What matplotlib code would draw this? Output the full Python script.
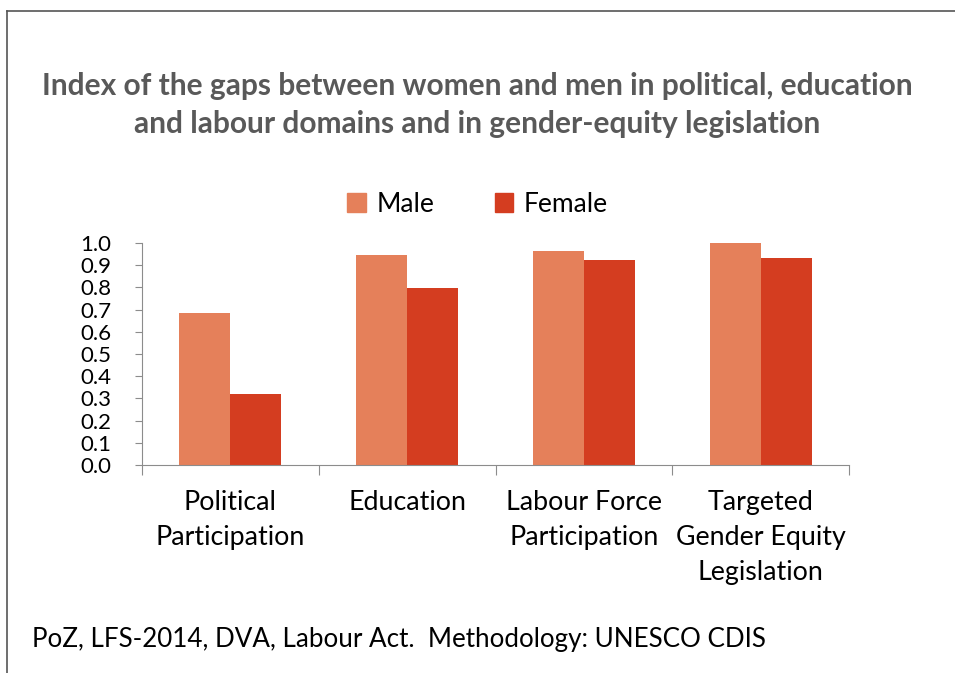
import matplotlib.pyplot as plt
import numpy as np
from matplotlib.patches import Patch

categories = ["Political\nParticipation", "Education", "Labour Force\nParticipation",
              "Targeted\nGender Equity\nLegislation"]
male = [0.684, 0.948, 0.963, 0.999]
female = [0.320, 0.798, 0.925, 0.934]
yticks = [0.0, 0.1, 0.2, 0.3, 0.4, 0.5, 0.6, 0.7, 0.8, 0.9, 1.0]

male_color = "#E5805A"
female_color = "#D43D20"
axis_gray = "#8C8C8C"
plt.rcParams['font.family'] = ['Lato', 'DejaVu Sans']

fig = plt.figure(figsize=(9.55, 6.73), dpi=100)
ax = fig.add_axes([142/955, 1-465/673, (849-142)/955, (465-243)/673])

x = np.arange(len(categories))
w = 0.288
ax.bar(x - w/2, male, w, color=male_color, label="Male")
ax.bar(x + w/2, female, w, color=female_color, label="Female")

ax.set_xlim(-0.5, len(categories) - 0.5)
ax.set_ylim(0, 1.0)
ax.set_yticks(yticks)
ax.set_yticklabels([f"{v:.1f}" for v in yticks], fontsize=16)
ax.set_xticks(np.arange(len(categories) + 1) - 0.5)
ax.set_xticklabels([])
ax.set_xticks(x, minor=True)
ax.set_xticklabels(categories, minor=True, fontsize=19.3, linespacing=1.5)
ax.tick_params(axis='x', which='minor', length=0, pad=18)
ax.tick_params(axis='x', which='major', length=7, color=axis_gray)
ax.tick_params(axis='y', length=5, color=axis_gray, pad=17)
for s in ['top', 'right']:
    ax.spines[s].set_visible(False)
for s in ['left', 'bottom']:
    ax.spines[s].set_color(axis_gray)

fig.text(0.5, 1-105/673, "Index of the gaps between women and men in political, education\n"
         "and labour domains and in gender-equity legislation",
         ha='center', va='center', fontsize=21.5, fontweight='bold', color="#595959",
         linespacing=1.45)

handles = [Patch(color=male_color, label="Male"), Patch(color=female_color, label="Female")]
fig.legend(handles=handles, loc='center', bbox_to_anchor=(0.5, 1-204/673), ncol=2,
           frameon=False, fontsize=19, handlelength=0.7, handleheight=0.7,
           handletextpad=0.4, columnspacing=2.3)

fig.text(32/955, 1-640/673, "PoZ, LFS-2014, DVA, Labour Act.  Methodology: UNESCO CDIS",
         ha='left', va='center', fontsize=18.7)

# border lines (top and left)
fig.add_artist(plt.Line2D([7/955, 1], [1-11/673, 1-11/673], color="#555555", lw=1.2))
fig.add_artist(plt.Line2D([7/955, 7/955], [0, 1-11/673], color="#555555", lw=1.2))

fig.savefig("out.png", dpi=100)
